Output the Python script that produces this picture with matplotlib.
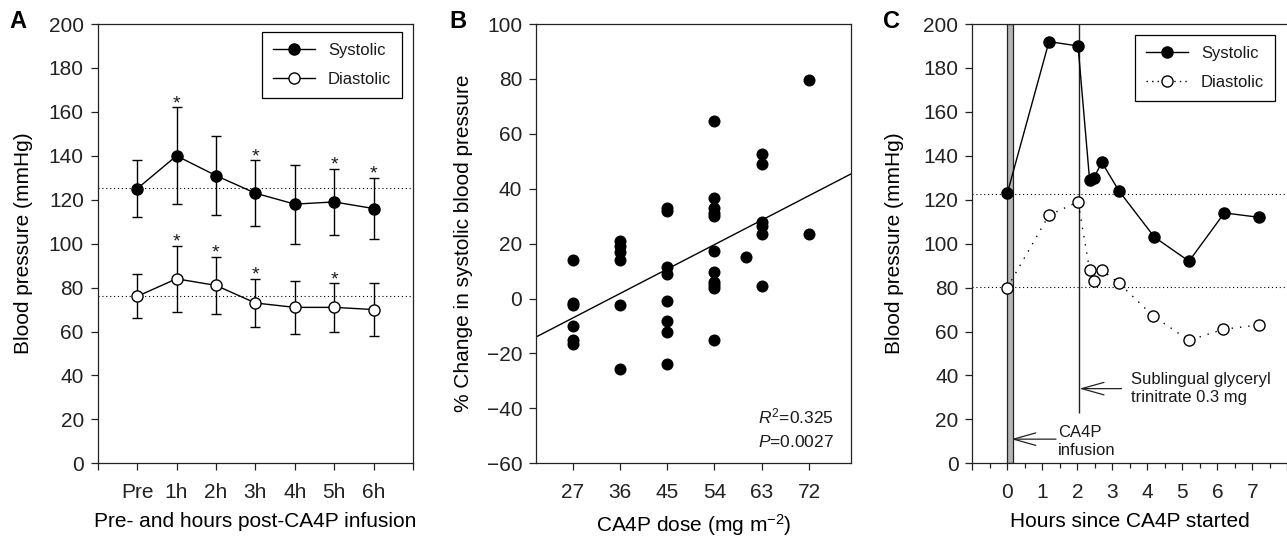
import numpy as np
import matplotlib
matplotlib.use("Agg")
import matplotlib.pyplot as plt
from matplotlib.lines import Line2D

plt.rcParams['font.family'] = ['Liberation Sans', 'DejaVu Sans']
plt.rcParams['mathtext.fontset'] = 'custom'
plt.rcParams['mathtext.rm'] = 'Liberation Sans'
plt.rcParams['mathtext.it'] = 'Liberation Sans:italic'
plt.rcParams['text.color'] = '#1a1a1a'

# ---- panel A: mean +/- SD by time point
time_labels = ['Pre', '1h', '2h', '3h', '4h', '5h', '6h']
sys_mean = [125, 140, 131, 123, 118, 119, 116]
sys_sd = [13, 22, 18, 15, 18, 15, 14]
sys_star = [False, True, False, True, False, True, True]
dia_mean = [76, 84, 81, 73, 71, 71, 70]
dia_sd = [10, 15, 13, 11, 12, 11, 12]
dia_star = [False, True, True, True, False, True, False]
sys_baseline = 125.5
dia_baseline = 76.3

# ---- panel B: % change vs dose
dose = [27, 27, 27, 27, 27, 27,
        36, 36, 36, 36, 36, 36,
        45, 45, 45, 45, 45, 45, 45, 45,
        54, 54, 54, 54, 54, 54, 54, 54, 54, 54, 54,
        60,
        63, 63, 63, 63, 63, 63,
        72, 72]
pct_change = [14, -1.5, -2.5, -10, -15, -16.5,
              21, 19, 17, 14, -2.5, -25.5,
              33, 32, 11.5, 9, -1, -8, -12, -24,
              64.5, 36.5, 33, 31, 30, 17.5, 9.5, 6, 5, 4, -15,
              15,
              52.5, 49, 28, 26.5, 23.5, 4.5,
              79.5, 23.5]
fit_slope = 0.99
fit_intercept = -33.8
dose_ticks = [27, 36, 45, 54, 63, 72]

# ---- panel C: single patient time course
c_hours_sys = [0, 1.19, 2.02, 2.35, 2.47, 2.70, 3.19, 4.20, 5.19, 6.20, 7.19]
c_sys = [123, 192, 190, 129, 130, 137, 124, 103, 92, 114, 112]
c_hours_dia = [0, 1.19, 2.02, 2.35, 2.47, 2.70, 3.19, 4.17, 5.19, 6.17, 7.19]
c_dia = [80, 113, 119, 88, 83, 88, 82, 67, 56, 61, 63]
c_sys_baseline = 122.5
c_dia_baseline = 80.4
infusion_len = 0.16
gtn_time = 2.06
gtn_line_bottom = 23

fs = 15
fig = plt.figure(figsize=(12.87, 5.41), dpi=100)
axA = fig.add_axes([0.0759, 0.1436, 0.2450, 0.8120])
axB = fig.add_axes([0.4165, 0.1436, 0.2447, 0.8120])
axC = fig.add_axes([0.7555, 0.1436, 0.2448, 0.8120])

for ax in (axA, axB, axC):
    for s in ax.spines.values():
        s.set_linewidth(0.9)
        s.set_color('#222222')
    ax.tick_params(direction='out', length=5, width=0.9, labelsize=fs, colors='#222222')
    ax.tick_params(axis='x', pad=9.5)
    ax.tick_params(axis='y', pad=5)

# --- A
x = np.arange(1, len(time_labels) + 1)
axA.axhline(sys_baseline, color='k', lw=0.8, ls=(0, (1, 2.5)), zorder=1)
axA.axhline(dia_baseline, color='k', lw=0.8, ls=(0, (1, 2.5)), zorder=1)
axA.errorbar(x, sys_mean, yerr=sys_sd, fmt='-o', color='k', mfc='k', mec='k',
             ms=8, lw=1, elinewidth=1, capsize=3.3, capthick=1, zorder=3)
axA.errorbar(x, dia_mean, yerr=dia_sd, fmt='-o', color='k', mfc='white', mec='k',
             ms=8, lw=1, elinewidth=1, capsize=3.3, capthick=1, zorder=3)
for xi, m, sd, st in zip(x, sys_mean, sys_sd, sys_star):
    if st:
        axA.annotate('*', (xi, m + sd), xytext=(0, -3.5), textcoords='offset points',
                     ha='center', va='bottom', fontsize=14)
for xi, m, sd, st in zip(x, dia_mean, dia_sd, dia_star):
    if st:
        axA.annotate('*', (xi, m + sd), xytext=(0, -3.5), textcoords='offset points',
                     ha='center', va='bottom', fontsize=14)
axA.set_xlim(0, len(time_labels) + 1)
axA.set_ylim(0, 200)
axA.set_xticks(np.arange(0, len(time_labels) + 2))
axA.set_xticklabels([''] + time_labels + [''])
axA.set_yticks(np.arange(0, 201, 20))
axA.set_xlabel('Pre- and hours post-CA4P infusion', fontsize=fs)
axA.set_ylabel('Blood pressure (mmHg)', fontsize=fs)
axA.yaxis.set_label_coords(-0.205, 0.5)
axA.xaxis.set_label_coords(0.5, -0.11)
hA = [Line2D([], [], color='k', marker='o', mfc='k', mec='k', ms=8, lw=1),
      Line2D([], [], color='k', marker='o', mfc='white', mec='k', ms=8, lw=1)]
legA = axA.legend(hA, ['Systolic', 'Diastolic'], loc='upper right',
                  bbox_to_anchor=(0.965, 0.982), borderaxespad=0, fancybox=False,
                  edgecolor='k', fontsize=12, handlelength=2.5, labelspacing=0.85,
                  borderpad=0.65, framealpha=1)
legA.get_frame().set_linewidth(0.9)

# --- B
axB.scatter(dose, pct_change, s=75, color='k', zorder=3, linewidths=0)
xl = np.array([20, 80])
axB.plot(xl, fit_intercept + fit_slope * xl, color='k', lw=1, zorder=2)
axB.set_xlim(20, 80)
axB.set_ylim(-60, 100)
axB.set_xticks(dose_ticks)
axB.set_yticks(np.arange(-60, 101, 20))
axB.set_xlabel(r'CA4P dose (mg m$^{\mathregular{-2}}$)', fontsize=fs)
axB.set_ylabel('% Change in systolic blood pressure', fontsize=fs)
axB.yaxis.set_label_coords(-0.2, 0.5)
axB.xaxis.set_label_coords(0.5, -0.11)
axB.text(0.946, 0.106, r'$\mathit{R}^{\mathregular{2}}$=0.325', transform=axB.transAxes,
         ha='right', va='center', fontsize=12.5)
axB.text(0.946, 0.049, r'$\mathit{P}$=0.0027', transform=axB.transAxes,
         ha='right', va='center', fontsize=12.5)

# --- C
axC.axhline(c_sys_baseline, color='k', lw=0.8, ls=(0, (1, 2.5)), zorder=1)
axC.axhline(c_dia_baseline, color='k', lw=0.8, ls=(0, (1, 2.5)), zorder=1)
axC.bar(0, 200, width=infusion_len, align='edge', color='#b4b4b4',
        edgecolor='#222222', lw=0.9, zorder=2)
axC.vlines(gtn_time, gtn_line_bottom, 200, color='#222222', lw=1, zorder=2)
axC.plot(c_hours_sys, c_sys, '-o', color='k', mfc='k', mec='k', ms=8, lw=1, zorder=4)
axC.plot(c_hours_dia, c_dia, 'o', ls=(0, (1, 5)), color='k', mfc='white', mec='k',
         ms=8, lw=1, zorder=3)
arrow = dict(arrowstyle='->,head_length=1.6,head_width=0.45', lw=0.9, color='#222222',
             shrinkA=0, shrinkB=0)
axC.annotate('', xy=(gtn_time, 34), xytext=(3.26, 34), arrowprops=arrow)
axC.text(3.52, 34, 'Sublingual glyceryl\ntrinitrate 0.3 mg', va='center', ha='left',
         fontsize=12, linespacing=1.2)
axC.annotate('', xy=(infusion_len * 0.7, 11), xytext=(1.39, 11), arrowprops=arrow)
axC.text(1.45, 10, 'CA4P\ninfusion', va='center', ha='left', fontsize=12,
         linespacing=1.2)
axC.set_xlim(-1, 8)
axC.set_ylim(0, 200)
axC.set_xticks(np.arange(-1, 9))
axC.set_xticklabels([''] + [str(i) for i in range(0, 8)] + [''])
axC.set_xticks(np.arange(-0.5, 8, 1), minor=True)
axC.tick_params(axis='x', which='minor', length=3.5, width=0.9, colors='#222222')
axC.set_yticks(np.arange(0, 201, 20))
axC.spines['right'].set_visible(False)
axC.set_xlabel('Hours since CA4P started', fontsize=fs)
axC.set_ylabel('Blood pressure (mmHg)', fontsize=fs)
axC.yaxis.set_label_coords(-0.217, 0.5)
axC.xaxis.set_label_coords(0.5, -0.11)
hC = [Line2D([], [], color='k', marker='o', mfc='k', mec='k', ms=8, lw=1),
      Line2D([], [], color='k', marker='o', mfc='white', mec='k', ms=8, lw=1,
             ls=(0, (1, 3)))]
legC = axC.legend(hC, ['Systolic', 'Diastolic'], loc='upper right',
                  bbox_to_anchor=(0.961, 0.975), borderaxespad=0, fancybox=False,
                  edgecolor='k', fontsize=12, handlelength=2.5, labelspacing=0.85,
                  borderpad=0.65, framealpha=1)
legC.get_frame().set_linewidth(0.9)

for lab, xp in (('A', 18), ('B', 458), ('C', 892)):
    fig.text(xp / 1287, 1 - 22 / 541, lab, fontsize=17, fontweight='bold',
             ha='center', va='center', color='k')

fig.savefig('out.png', dpi=100)
